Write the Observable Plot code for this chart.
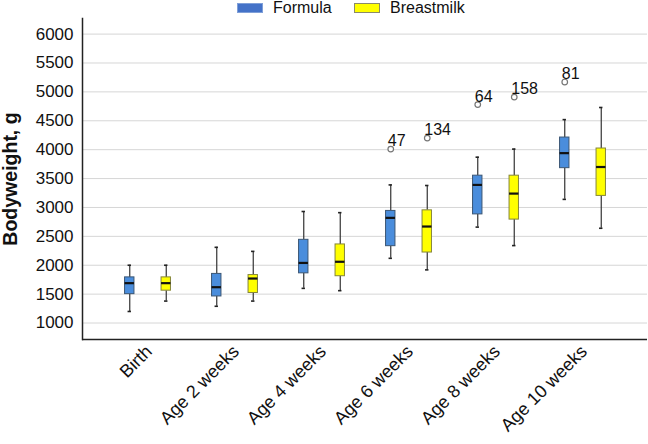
<!DOCTYPE html>
<html><head><meta charset="utf-8">
<script src="https://cdn.jsdelivr.net/npm/d3@7"></script>
<script src="https://cdn.jsdelivr.net/npm/@observablehq/plot@0.6"></script>
<style>
body{margin:0;background:#fff;font-family:"Liberation Sans",Arial,sans-serif;}
#legend{position:relative;height:16px;font-size:16px;color:#111;}
#legend .sw{position:absolute;top:3px;height:8px;width:24px;border:1px solid #999;}
#legend .lb{position:absolute;top:-1px;line-height:18px;white-space:nowrap;}
</style></head><body>
<div id="legend"></div>
<div id="chart"></div>
<script>
// categories
const groups = ["Birth", "Age 2 weeks", "Age 4 weeks", "Age 6 weeks", "Age 8 weeks", "Age 10 weeks"];
const seriesNames = ["Formula", "Breastmilk"];
// y tick labels
const yTickValues = [1000, 1500, 2000, 2500, 3000, 3500, 4000, 4500, 5000, 5500, 6000];

// Formula five-number summaries (g)
const formulaMin = [1200, 1290, 1600, 2120, 2660, 3140];
const formulaQ1  = [1500, 1460, 1860, 2330, 2880, 3680];
const formulaMed = [1690, 1620, 2040, 2820, 3390, 3940];
const formulaQ3  = [1790, 1850, 2440, 2940, 3550, 4210];
const formulaMax = [2000, 2310, 2930, 3390, 3870, 4520];

// Breastmilk five-number summaries (g)
const breastMin = [1380, 1380, 1560, 1920, 2340, 2640];
const breastQ1  = [1560, 1520, 1810, 2220, 2790, 3200];
const breastMed = [1690, 1770, 2060, 2670, 3240, 3700];
const breastQ3  = [1790, 1830, 2360, 2950, 3550, 4020];
const breastMax = [2000, 2240, 2910, 3380, 4010, 4730];

// outliers
const outlierGroup  = ["Age 6 weeks", "Age 6 weeks", "Age 8 weeks", "Age 8 weeks", "Age 10 weeks"];
const outlierSeries = ["Formula", "Breastmilk", "Formula", "Breastmilk", "Formula"];
const outlierValue  = [4010, 4200, 4780, 4910, 5170];
const outlierLabel  = ["47", "134", "64", "158", "81"];

// styles
const fillColor   = {Formula: "#4a8ddc", Breastmilk: "#ffff00"};
const strokeColor = {Formula: "#3b5674", Breastmilk: "#85853a"};
const legendColor = {Formula: "#4472c8", Breastmilk: "#ffff00"};
const offset      = {Formula: -18.25, Breastmilk: 18.25};

const summaries = {
  Formula: groups.map((g, i) => ({group: g, min: formulaMin[i], q1: formulaQ1[i], med: formulaMed[i], q3: formulaQ3[i], max: formulaMax[i]})),
  Breastmilk: groups.map((g, i) => ({group: g, min: breastMin[i], q1: breastQ1[i], med: breastMed[i], q3: breastQ3[i], max: breastMax[i]}))
};
const outliers = outlierValue.map((v, i) => ({group: outlierGroup[i], series: outlierSeries[i], value: v, label: outlierLabel[i]}));

// legend
const legend = document.getElementById("legend");
const legendX = {Formula: [237, 273], Breastmilk: [354, 390]};
seriesNames.forEach(s => {
  const sw = document.createElement("div");
  sw.className = "sw"; sw.style.left = legendX[s][0] + "px"; sw.style.background = legendColor[s];
  sw.style.borderColor = s === "Formula" ? "#7f9fd8" : "#8a8a6a";
  const lb = document.createElement("div");
  lb.className = "lb"; lb.style.left = legendX[s][1] + "px"; lb.textContent = s;
  legend.append(sw, lb);
});

const boxHalfInset = 38.8;
const seriesMarks = seriesNames.flatMap(s => {
  const d = summaries[s];
  const dx = offset[s];
  const o = outliers.filter(r => r.series === s);
  return [
    Plot.ruleX(d, {x: "group", y1: "min", y2: "q1", dx, stroke: "#333", strokeWidth: 1.2}),
    Plot.ruleX(d, {x: "group", y1: "q3", y2: "max", dx, stroke: "#333", strokeWidth: 1.2}),
    Plot.tickY(d, {x: "group", y: "min", dx, insetLeft: 41.8, insetRight: 41.8, stroke: "#222", strokeWidth: 1.6}),
    Plot.tickY(d, {x: "group", y: "max", dx, insetLeft: 41.8, insetRight: 41.8, stroke: "#222", strokeWidth: 1.6}),
    Plot.barY(d, {x: "group", y1: "q1", y2: "q3", dx, insetLeft: boxHalfInset, insetRight: boxHalfInset, fill: fillColor[s], stroke: strokeColor[s], strokeWidth: 1}),
    Plot.tickY(d, {x: "group", y: "med", dx, insetLeft: boxHalfInset, insetRight: boxHalfInset, stroke: "#111", strokeWidth: 2.2}),
    Plot.dot(o, {x: "group", y: "value", dx, r: 2.8, stroke: "#777", strokeWidth: 1.2, fill: "#fff"}),
    Plot.text(o, {x: "group", y: "value", text: "label", dx: dx - 3, dy: -3, textAnchor: "start", lineAnchor: "bottom", fontSize: 16, fill: "#111"})
  ];
});

const chart = Plot.plot({
  width: 648, height: 428,
  marginLeft: 82, marginRight: 1, marginTop: 2, marginBottom: 105,
  style: {fontFamily: "'Liberation Sans', Arial, sans-serif", fontSize: "16px", color: "#111", background: "#fff"},
  x: {type: "band", domain: groups, paddingInner: 0, paddingOuter: 0.2257, label: null},
  y: {domain: [715, 6270], label: null},
  marks: [
    Plot.gridY(yTickValues, {stroke: "#d6d6d6", strokeOpacity: 1, strokeWidth: 1}),
    Plot.axisY(yTickValues, {tickSize: 0, tickPadding: 9, fontSize: 17, tickFormat: d3.format("d"), label: null}),
    Plot.axisX({tickSize: 0, tickPadding: 9, tickRotate: -45, fontSize: 18, dx: 1, label: null}),
    Plot.text(["Bodyweight, g"], {frameAnchor: "left", textAnchor: "middle", dx: -72, rotate: -90, fontWeight: "bold", fontSize: 19.5, fill: "#111"}),
    ...seriesMarks,
    Plot.ruleY([715], {stroke: "#222", strokeWidth: 1.5}),
    Plot.frame({anchor: "left", stroke: "#222", strokeWidth: 1.5})
  ]
});
document.getElementById("chart").append(chart);
</script>
</body></html>
